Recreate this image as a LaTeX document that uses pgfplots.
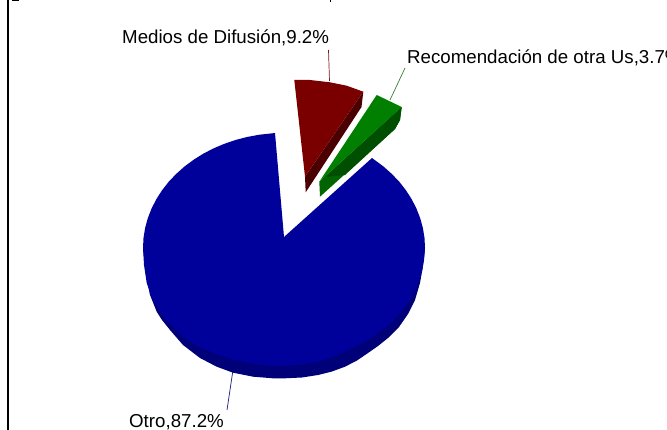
\documentclass[border=0pt]{standalone}
\usepackage{pgfplots}
\pgfplotsset{compat=1.18}
\usepackage{fontspec}
\setmainfont{Liberation Sans}
\definecolor{blueT}{HTML}{00009B}
\definecolor{blueD}{HTML}{000078}
\definecolor{redT}{HTML}{7A0000}
\definecolor{redD}{HTML}{4A0000}
\definecolor{greenT}{HTML}{007F00}
\definecolor{greenM}{HTML}{006400}
\definecolor{greenD}{HTML}{004F00}
\begin{document}
\begin{tikzpicture}
\path[use as bounding box] (0,0) rectangle (667pt,430pt);
\begin{axis}[at={(0,0)},anchor=south west,scale only axis,width=667pt,height=430pt,
  xmin=0,xmax=667,ymin=0,ymax=430,y dir=reverse,hide axis,clip=true]
% left frame
\addplot[black,line width=1.6pt] coordinates {(8,0) (8,430)};
\addplot[black,line width=1.2pt] coordinates {(12,0) (19,0)};
\addplot[black,line width=1pt] coordinates {(330,0) (330,2)};
% leader lines
\addplot[color=redT!80!gray,line width=0.7pt] coordinates {(329.5,81) (328.5,50)};
\addplot[color=greenT!60!gray,line width=0.7pt] coordinates {(390,100) (405,68)};
\addplot[color=blueD!80!gray,line width=0.7pt] coordinates {(233,370) (227,410)};
% blue side
\addplot[fill=blueD,draw=none] coordinates {
(425,248)(424,260)(422.3,270)(420,283)(415,300)(408,314)(399,327)(388,338)(378,346)(368,353)(357,360.5)(345,366.7)(332,371.5)(318,375)(302,377.5)(285,378.3)(273,378.3)(253,376.7)(233,372.7)(216.7,366.7)(200,358)(183,345)(170,330)(162,320)(156.7,311.7)(150,295)(147.5,283)(145.7,270)(143,248)} -- cycle;
% blue top
\addplot[fill=blueT,draw=none] coordinates {
(372,158)(374.6,159.9)(383.7,166.7)(392,174.1)(399.5,182)(406.1,190.5)(411.8,199.4)(416.5,208.7)(420.2,218.2)(422.9,228)(424.5,238)(425,248)
(424,258)(422.3,270)(420,278)(415,290)(409,301)(401.7,311.7)(391,323)(378,333)(366,341.5)(351.7,348.3)(335,356)(318,361.7)(302,364.5)(285,366)(271,366)(256.7,364.3)(245,362.3)(233,359.3)(220,355.5)(206.7,350)(198,346.5)(190,341.7)(181,335)(173,326.7)(166,320)(160,311.7)(151.7,296.7)(146.7,283)(144,265)(143,248)
(143.5,238)(145.1,228)(147.8,218.2)(151.5,208.7)(156.2,199.4)(161.9,190.5)(168.5,182)(176,174.1)(184.3,166.7)(193.4,159.9)(203.1,153.8)(213.5,148.4)(224.4,143.8)(235.8,139.9)(247.5,136.9)(259.5,134.7)(271.7,133.4)(275,133)(284,237)} -- cycle;
% red
\addplot[fill=redD,draw=none] coordinates {(363.3,91.7)(361.5,107)(305.7,192.3)(305,176.7)} -- cycle;
\addplot[fill=redT,draw=none] coordinates {(294.3,80)(310,80)(330,82.3)(346.7,85.7)(363.3,91.7)(305,176.7)} -- cycle;
% green
\addplot[fill=greenM,draw=none] coordinates {(401.7,107)(400,120)(395,129)(320,196.7)(319.3,181.7)} -- cycle;
\addplot[fill=greenD,draw=none] coordinates {(401.7,107)(400,120)(395,129)(345,175)(325,177)} -- cycle;
\addplot[fill=greenT,draw=none] coordinates {(376.7,95)(401.7,107)(319.3,181.7)} -- cycle;
\node[anchor=base west,font=\fontsize{18.7}{18.7}\selectfont,inner sep=0pt] at (axis cs:122,44) {Medios de Difusión,9.2\%};
\node[anchor=base west,font=\fontsize{18.7}{18.7}\selectfont,inner sep=0pt] at (axis cs:407,64) {Recomendación de otra Us,3.7\%};
\node[anchor=base west,font=\fontsize{18.7}{18.7}\selectfont,inner sep=0pt] at (axis cs:129,427.5) {Otro,87.2\%};
\end{axis}
\end{tikzpicture}
\end{document}
